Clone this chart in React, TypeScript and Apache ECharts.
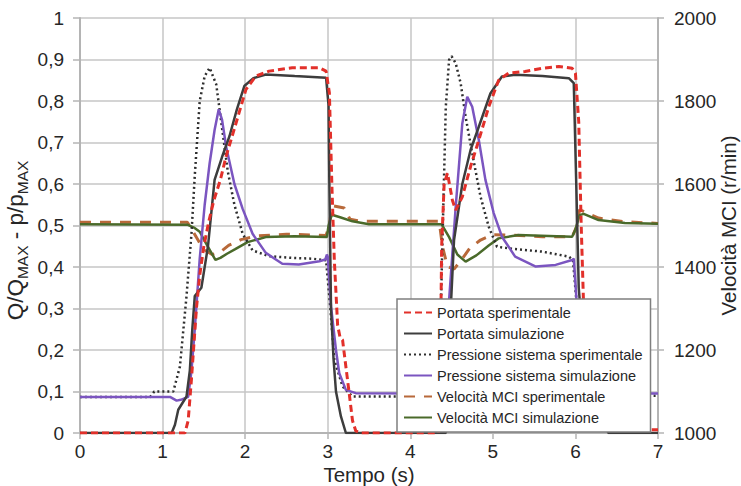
import React, { useEffect, useRef } from "react";
import * as echarts from "echarts";

const FONT = "'Liberation Sans', Arial, sans-serif";

const xMin = 0;
const xMax = 7;
const yLeftMin = 0;
const yLeftMax = 1;
const yRightMin = 1000;
const yRightMax = 2000;

const seriesNames = [
  "Portata sperimentale",
  "Portata simulazione",
  "Pressione sistema sperimentale",
  "Pressione sistema simulazione",
  "Velocità MCI sperimentale",
  "Velocità MCI simulazione",
];

// [tempo (s), Q/Qmax]
const portataSperimentale: [number, number][] = [
  [0, 0], [1.27, 0], [1.31, 0.03], [1.35, 0.13], [1.41, 0.3], [1.45, 0.38], [1.5, 0.45],
  [1.56, 0.51], [1.62, 0.56], [1.7, 0.61], [1.77, 0.667], [1.89, 0.747], [2.01, 0.828],
  [2.13, 0.86], [2.29, 0.872], [2.57, 0.88], [2.9, 0.88], [2.98, 0.872], [3.02, 0.82],
  [3.05, 0.6], [3.08, 0.417], [3.12, 0.26], [3.15, 0.23], [3.18, 0.224], [3.22, 0.16],
  [3.26, 0.096], [3.3, 0.03], [3.34, 0.005], [3.4, 0], [4.34, 0], [4.36, 0.1], [4.38, 0.45],
  [4.41, 0.6], [4.45, 0.626], [4.51, 0.561], [4.55, 0.537], [4.63, 0.569], [4.73, 0.642],
  [4.83, 0.706], [4.95, 0.786], [5.07, 0.85], [5.19, 0.867], [5.39, 0.871], [5.6, 0.879],
  [5.8, 0.883], [5.96, 0.879], [6.0, 0.867], [6.04, 0.75], [6.07, 0.5], [6.1, 0.3],
  [6.15, 0.15], [6.22, 0.06], [6.3, 0.02], [6.38, 0.008], [7, 0.008],
];

const portataSimulazione: [number, number][] = [
  [0, 0], [1.11, 0], [1.15, 0.02], [1.19, 0.056], [1.29, 0.088], [1.33, 0.15], [1.36, 0.25],
  [1.39, 0.33], [1.47, 0.35], [1.51, 0.4], [1.55, 0.45], [1.59, 0.53], [1.63, 0.61],
  [1.72, 0.665], [1.81, 0.715], [1.9, 0.78], [1.99, 0.836], [2.1, 0.855], [2.25, 0.864],
  [2.6, 0.86], [2.98, 0.856], [3.01, 0.79], [3.02, 0.6], [3.04, 0.3], [3.07, 0.18],
  [3.1, 0.1], [3.16, 0.04], [3.22, 0], [4.43, 0], [4.46, 0.1], [4.49, 0.3], [4.53, 0.465],
  [4.63, 0.6], [4.73, 0.682], [4.83, 0.738], [4.97, 0.818], [5.11, 0.859], [5.27, 0.863],
  [5.6, 0.86], [5.92, 0.855], [5.98, 0.843], [6.01, 0.6], [6.04, 0.35], [6.1, 0.2],
  [6.2, 0.1], [6.3, 0.04], [6.4, 0], [7, 0],
];

// [tempo (s), p/pmax]
const pressioneSperimentale: [number, number][] = [
  [0, 0.087], [0.85, 0.087], [0.9, 0.1], [1.13, 0.1], [1.21, 0.16], [1.29, 0.33],
  [1.35, 0.48], [1.39, 0.62], [1.45, 0.8], [1.51, 0.86], [1.57, 0.88], [1.65, 0.84],
  [1.71, 0.75], [1.79, 0.63], [1.87, 0.55], [1.97, 0.48], [2.09, 0.44], [2.29, 0.426],
  [2.57, 0.422], [2.82, 0.42], [2.98, 0.416], [3.03, 0.305], [3.08, 0.176], [3.18, 0.112],
  [3.3, 0.088], [4.33, 0.088], [4.37, 0.3], [4.39, 0.465], [4.41, 0.626], [4.43, 0.786],
  [4.47, 0.899], [4.5, 0.908], [4.55, 0.891], [4.61, 0.843], [4.67, 0.762], [4.75, 0.674],
  [4.85, 0.57], [4.95, 0.497], [5.05, 0.449], [5.19, 0.445], [5.6, 0.437], [5.92, 0.425],
  [5.97, 0.417], [6.02, 0.3], [6.08, 0.18], [6.18, 0.11], [6.3, 0.09], [7, 0.09],
];

const pressioneSimulazione: [number, number][] = [
  [0, 0.087], [1.09, 0.087], [1.17, 0.078], [1.22, 0.08], [1.31, 0.087], [1.35, 0.15],
  [1.39, 0.25], [1.45, 0.42], [1.51, 0.55], [1.57, 0.65], [1.63, 0.73], [1.68, 0.78],
  [1.72, 0.755], [1.77, 0.69], [1.87, 0.6], [1.97, 0.54], [2.09, 0.48], [2.25, 0.434],
  [2.45, 0.408], [2.65, 0.406], [2.9, 0.414], [2.97, 0.418], [2.99, 0.43], [3.0, 0.425],
  [3.04, 0.305], [3.1, 0.2], [3.14, 0.144], [3.22, 0.104], [3.34, 0.096], [4.4, 0.095],
  [4.44, 0.15], [4.47, 0.32], [4.55, 0.545], [4.63, 0.746], [4.69, 0.81], [4.75, 0.786],
  [4.83, 0.706], [4.91, 0.61], [5.01, 0.53], [5.11, 0.473], [5.27, 0.425], [5.52, 0.401],
  [5.76, 0.405], [5.96, 0.417], [5.98, 0.42], [6.02, 0.3], [6.08, 0.2], [6.15, 0.14],
  [6.25, 0.1], [6.4, 0.095], [7, 0.095],
];

// [tempo (s), r/min]
const velocitaSperimentale: [number, number][] = [
  [0, 1508], [1.3, 1508], [1.37, 1485], [1.45, 1458], [1.52, 1440], [1.6, 1430],
  [1.7, 1436], [1.8, 1452], [1.95, 1466], [2.15, 1475], [2.5, 1479], [2.98, 1476],
  [3.02, 1500], [3.05, 1548], [3.2, 1542], [3.27, 1515], [3.4, 1510], [4.35, 1510],
  [4.39, 1449], [4.45, 1401], [4.53, 1395], [4.63, 1420], [4.72, 1445], [4.85, 1465],
  [5.0, 1478], [5.19, 1477], [5.6, 1473], [5.96, 1473], [6.02, 1500], [6.05, 1538],
  [6.14, 1530], [6.28, 1518], [6.6, 1509], [7, 1505],
];

const velocitaSimulazione: [number, number][] = [
  [0, 1503], [1.3, 1502], [1.38, 1495], [1.45, 1485], [1.54, 1452], [1.64, 1417],
  [1.7, 1422], [1.78, 1432], [1.88, 1443], [2.03, 1460], [2.25, 1472], [2.6, 1474],
  [2.99, 1472], [3.01, 1500], [3.05, 1526], [3.15, 1520], [3.3, 1510], [3.5, 1503],
  [4.38, 1503], [4.47, 1472], [4.57, 1430], [4.67, 1413], [4.8, 1428], [4.95, 1452],
  [5.07, 1469], [5.31, 1477], [5.96, 1473], [6.0, 1490], [6.05, 1525], [6.1, 1528],
  [6.28, 1513], [6.6, 1506], [7, 1504],
];

const GRID = "#c6c6c6";
const AXIS = "#b4b4b4";
const TEXT = "#262626";

function fmtLeft(v: number): string {
  if (v === 0) return "0";
  if (v === 1) return "1";
  return v.toFixed(1).replace(".", ",");
}

export default function App() {
  const ref = useRef<HTMLDivElement>(null);
  useEffect(() => {
    const chart = echarts.init(ref.current!, null, { renderer: "svg" });
    const line = (
      name: string,
      data: [number, number][],
      color: string,
      width: number,
      type: any,
      yAxisIndex: number,
      z: number
    ) => ({
      name,
      type: "line",
      data,
      yAxisIndex,
      symbol: "none",
      showSymbol: false,
      z,
      lineStyle: { color, width, type },
      itemStyle: { color, opacity: 0 },
    });
    chart.setOption({
      animation: false,
      backgroundColor: "#fff",
      textStyle: { fontFamily: FONT },
      grid: {
        left: 80,
        right: 83,
        top: 18,
        bottom: 53,
        containLabel: false,
        outerBoundsMode: "none",
      },
      legend: {
        data: seriesNames,
        orient: "vertical",
        left: 397,
        top: 299,
        z: 20,
        itemWidth: 28,
        itemHeight: 14,
        itemGap: 6,
        padding: [6, 8, 7, 6],
        backgroundColor: "#fff",
        borderColor: "#7f7f7f",
        borderWidth: 1.5,
        selectedMode: false,
        itemStyle: { opacity: 0 },
        textStyle: { fontSize: 14.5, color: TEXT, fontFamily: FONT, lineHeight: 14 },
      },
      xAxis: {
        type: "value",
        min: xMin,
        max: xMax,
        interval: 1,
        name: "Tempo (s)",
        nameLocation: "middle",
        nameGap: 30,
        nameMoveOverlap: false,
        nameTextStyle: { fontSize: 20.5, color: TEXT, fontFamily: FONT, lineHeight: 22 },
        axisLine: { show: true, lineStyle: { color: AXIS, width: 2 } },
        axisTick: { show: true, length: 6, lineStyle: { color: AXIS, width: 1.5 } },
        axisLabel: { fontSize: 19, lineHeight: 20, color: TEXT, margin: 8, fontFamily: FONT },
        splitLine: { show: true, lineStyle: { color: GRID, width: 1.5 } },
      },
      yAxis: [
        {
          type: "value",
          min: yLeftMin,
          max: yLeftMax,
          interval: 0.1,
          position: "left",
          name: "{n|Q/Q}{s|MAX}{n| - p/p}{s|MAX}",
          nameLocation: "middle",
          nameRotate: 90,
          nameGap: 50,
          nameMoveOverlap: false,
          nameTextStyle: {
            color: TEXT,
            fontFamily: FONT,
            padding: [0, 30, 0, 0],
            rich: {
              n: { fontSize: 22.5, lineHeight: 30, color: TEXT, fontFamily: FONT },
              s: { fontSize: 15.5, lineHeight: 15, verticalAlign: "bottom", color: TEXT, fontFamily: FONT },
            },
          },
          axisLine: { show: true, lineStyle: { color: AXIS, width: 2 } },
          axisTick: { show: true, length: 7, lineStyle: { color: AXIS, width: 1.5 } },
          axisLabel: { fontSize: 19, color: TEXT, margin: 16, fontFamily: FONT, formatter: fmtLeft },
          splitLine: { show: true, lineStyle: { color: GRID, width: 1.5 } },
        },
        {
          type: "value",
          min: yRightMin,
          max: yRightMax,
          interval: 200,
          position: "right",
          name: "Velocità MCI (r/min)",
          nameLocation: "middle",
          nameRotate: 90,
          nameGap: 60,
          nameMoveOverlap: false,
          nameTextStyle: { fontSize: 20.5, color: TEXT, fontFamily: FONT, lineHeight: 21 },
          axisLine: { show: true, lineStyle: { color: AXIS, width: 2 } },
          axisTick: { show: true, length: 6, lineStyle: { color: AXIS, width: 1.5 } },
          axisLabel: {
            fontSize: 19,
            color: TEXT,
            margin: 16,
            fontFamily: FONT,
            formatter: (v: number) => String(v),
          },
          splitLine: { show: false },
        },
      ],
      series: [
        line(seriesNames[4], velocitaSperimentale, "#b8693a", 3, [11, 9], 1, 2),
        line(seriesNames[5], velocitaSimulazione, "#4a6a2a", 2.5, "solid", 1, 3),
        line(seriesNames[2], pressioneSperimentale, "#2e2e2e", 2.5, [2, 3], 0, 4),
        line(seriesNames[3], pressioneSimulazione, "#7b55c0", 2.5, "solid", 0, 5),
        line(seriesNames[1], portataSimulazione, "#3d3d3d", 2.5, "solid", 0, 6),
        line(seriesNames[0], portataSperimentale, "#e2302a", 3, [7, 4], 0, 7),
      ],
    });
    return () => chart.dispose();
  }, []);
  return (
    <div
      ref={ref}
      style={{ position: "fixed", left: 0, top: 0, width: 741, height: 486 }}
    />
  );
}
